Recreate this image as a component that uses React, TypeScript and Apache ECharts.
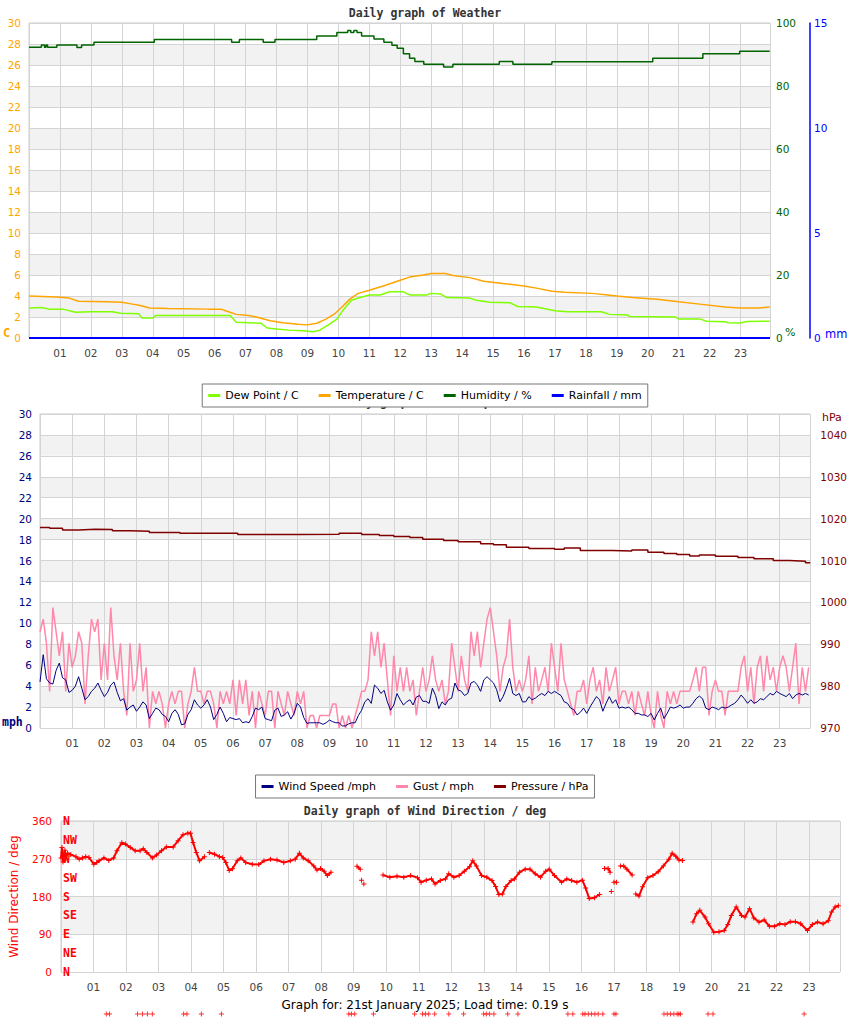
import React, { useEffect, useRef } from 'react';
import * as echarts from 'echarts';

// ---------- DATA ----------
const hourLabels = ['', '01', '02', '03', '04', '05', '06', '07', '08', '09', '10', '11', '12', '13', '14', '15', '16', '17', '18', '19', '20', '21', '22', '23'];
const compassLabels = ['N', 'NE', 'E', 'SE', 'S', 'SW', 'W', 'NW', 'N'];

// [hour, °C]
const temperature = [[0,4.0],[0.9,3.9],[1.3,3.8],[1.6,3.5],[2.5,3.45],[3.0,3.4],[3.3,3.25],[3.6,3.1],[3.9,2.85],[4.5,2.8],[5.8,2.75],[6.2,2.75],[6.4,2.55],[6.7,2.25],[7.1,2.15],[7.4,1.95],[7.8,1.65],[8.2,1.45],[8.7,1.3],[9.0,1.25],[9.3,1.4],[9.6,1.8],[9.9,2.35],[10.1,2.9],[10.37,3.7],[10.64,4.25],[11.0,4.55],[11.45,4.95],[12.0,5.5],[12.3,5.8],[12.75,6.0],[13.0,6.15],[13.45,6.15],[13.7,5.95],[14.25,5.75],[14.7,5.4],[15.3,5.2],[16.0,4.95],[16.4,4.75],[16.9,4.45],[17.3,4.35],[18.2,4.25],[18.7,4.1],[19.0,4.0],[19.5,3.85],[20.3,3.7],[21.0,3.45],[21.6,3.25],[22.5,2.95],[23.0,2.85],[23.6,2.85],[23.94,2.95]];
const dewPoint = [[0,2.85],[0.4,2.9],[0.65,2.75],[1.1,2.75],[1.5,2.45],[2.0,2.5],[2.7,2.5],[2.95,2.35],[3.55,2.3],[3.65,1.9],[4.0,1.9],[4.1,2.15],[6.5,2.15],[6.7,1.5],[7.5,1.4],[7.7,0.95],[8.0,0.85],[8.4,0.75],[8.85,0.7],[9.2,0.6],[9.4,0.75],[9.65,1.2],[9.95,1.8],[10.15,2.65],[10.42,3.6],[10.7,3.85],[11.0,4.1],[11.35,4.1],[11.65,4.4],[12.1,4.4],[12.3,4.1],[12.85,4.1],[13.0,4.25],[13.3,4.2],[13.5,3.85],[14.25,3.8],[14.46,3.6],[14.9,3.4],[15.55,3.35],[15.8,3.0],[16.4,2.95],[17.0,2.6],[17.4,2.5],[18.5,2.5],[18.77,2.25],[19.35,2.2],[19.4,2.05],[20.9,2.0],[21.0,1.8],[21.7,1.8],[21.9,1.6],[22.5,1.55],[22.6,1.45],[23.0,1.42],[23.2,1.58],[23.94,1.6]];
// [hour, %]
const humidity = [[0,92.3],[0.4,93.0],[0.5,92.3],[0.55,93.0],[0.6,92.3],[0.9,93.0],[1.55,92.2],[1.7,93.0],[2.1,93.9],[4.05,94.8],[6.55,93.9],[6.8,94.8],[7.57,93.9],[7.95,94.8],[9.3,95.9],[9.95,97.0],[10.3,97.6],[10.4,97.0],[10.5,97.6],[10.6,97.0],[10.75,95.9],[11.15,94.9],[11.47,93.9],[11.73,92.9],[11.9,92.0],[12.1,90.2],[12.3,88.8],[12.47,87.8],[12.76,86.9],[13.4,86.0],[13.7,86.9],[15.2,87.8],[15.64,86.9],[16.9,87.7],[20.16,88.8],[21.78,90.2],[22.97,91.0],[23.94,91.0]];
// [hour, mm]
const rainfall = [[0,0],[23.95,0]];

// mph, one value every 0.1 h from 00:00
const windSpeed = [
  4.4,7.0,4.7,4.3,4.2,5.5,6.2,4.8,4.6,3.4,
  3.6,4.0,4.9,3.8,2.7,3.0,3.5,3.8,4.3,3.6,
  3.0,3.4,4.1,4.4,3.4,2.6,2.8,1.7,2.0,2.2,
  1.6,2.0,2.5,2.2,0.9,1.4,1.9,1.75,1.3,1.1,
  0.6,1.4,1.75,1.3,0.3,0.4,1.3,1.75,2.7,2.2,
  1.9,2.2,2.7,2.0,0.8,1.3,2.0,1.4,0.6,1.0,
  0.9,0.8,0.9,0.5,0.6,0.5,1.1,1.9,1.75,2.0,
  0.9,0.8,0.7,1.7,1.9,1.1,1.25,1.55,0.85,1.4,
  2.36,2.0,1.0,0.45,0.5,0.5,0.5,0.5,0.35,0.5,
  0.76,0.6,0.5,0.5,0.2,0.2,0.4,0.5,0.5,1.2,
  1.7,2.5,2.8,2.35,4.1,3.8,3.3,3.6,2.5,1.7,
  2.2,3.3,2.7,2.2,2.5,2.7,2.2,2.95,3.1,2.55,
  2.55,2.35,3.8,3.1,1.85,2.5,2.2,2.7,2.85,4.3,
  3.65,3.5,3.1,3.3,4.3,4.45,4.1,3.5,4.6,4.9,
  4.6,4.3,3.65,2.5,3.0,3.8,4.75,3.3,3.1,3.3,
  2.5,2.5,3.0,2.7,2.85,3.1,3.3,3.1,3.5,3.3,
  3.5,3.3,3.1,2.5,2.36,1.9,1.75,1.25,1.5,1.9,
  1.4,2.0,2.5,3.0,2.7,1.6,2.36,3.0,2.36,2.7,
  1.9,2.0,1.9,2.0,1.75,1.4,1.4,1.25,1.25,1.1,
  1.4,0.76,1.4,1.9,0.9,1.4,2.0,1.9,2.0,2.2,
  1.9,2.0,2.0,2.36,2.8,3.05,2.8,1.9,1.75,2.0,
  1.9,1.75,2.0,1.9,2.0,2.2,2.36,2.7,3.15,2.8,
  2.36,2.7,2.36,2.5,2.8,2.7,3.0,3.3,3.15,3.5,
  3.3,3.15,3.0,3.3,2.8,3.15,3.3,3.15,3.3,3.15
];
// mph, one value every 0.1 h from 00:00
const gust = [
  9.2,10.4,8.1,3.5,11.5,9.2,6.9,9.2,3.5,8.1,
  5.8,6.9,9.2,8.1,2.3,6.9,10.4,9.2,10.4,4.6,
  8.1,4.6,11.5,6.9,4.6,8.1,3.5,1.2,8.1,3.5,
  4.6,8.1,3.5,5.8,0,3.5,2.3,3.5,2.3,0,
  2.3,3.5,2.3,3.5,3.5,0,2.3,3.5,5.8,3.5,
  3.5,2.3,3.5,3.5,2.3,0,3.5,2.3,3.5,2.3,
  4.6,1.2,4.6,2.3,4.6,1.2,3.5,0,3.5,2.3,
  1.2,3.5,3.5,0,3.5,2.3,1.2,3.5,2.3,1.2,
  3.5,2.3,3.5,0,1.2,1.2,0,1.2,1.2,1.2,
  1.2,2.3,2.3,0,1.2,0,1.2,0,1.2,2.3,
  3.5,3.5,4.6,9.2,6.9,9.2,5.8,8.1,4.6,1.2,
  6.9,3.5,5.8,3.5,5.8,3.5,4.6,1.2,3.5,5.8,
  3.5,4.6,6.9,4.6,3.5,4.6,2.3,3.5,8.1,5.8,
  3.5,6.9,4.6,3.5,9.2,6.9,9.2,5.8,8.1,10.4,
  11.5,9.2,6.9,3.5,5.8,6.9,10.4,5.8,3.5,4.6,
  3.5,4.6,6.9,2.3,5.8,3.5,4.6,5.8,3.5,8.1,
  5.8,3.5,8.1,4.6,3.5,2.3,1.2,3.5,3.5,4.6,
  2.3,4.6,5.8,3.5,4.6,2.3,5.8,3.5,4.6,5.8,
  2.3,3.5,3.5,2.3,3.5,1.2,3.5,2.3,1.2,3.5,
  1.2,0,3.5,1.2,0,3.5,2.3,3.5,2.3,3.5,
  3.5,3.5,3.5,4.6,5.8,3.5,5.8,5.8,1.2,3.5,
  4.6,3.5,3.5,1.2,3.5,3.5,3.5,3.5,5.8,6.9,
  3.5,5.8,2.3,5.8,6.9,3.5,6.9,4.6,5.8,3.5,
  5.8,6.9,5.8,3.5,5.8,8.1,2.3,5.8,3.5,5.8
];
// [hour, hPa]
const pressure = [[0,1017.9],[0.3,1017.7],[0.7,1017.3],[1.2,1017.45],[1.7,1017.4],[2.25,1017.1],[2.8,1017.0],[3.4,1016.7],[4.35,1016.5],[6.15,1016.2],[8.0,1016.3],[9.3,1016.5],[10.0,1016.2],[10.55,1016.0],[11.0,1015.75],[11.5,1015.5],[11.9,1015.1],[12.55,1014.8],[13.0,1014.5],[13.7,1014.0],[14.1,1013.75],[14.5,1013.2],[15.2,1012.9],[16.0,1012.7],[16.3,1013.0],[16.8,1012.4],[17.8,1012.3],[18.4,1012.5],[18.9,1012.0],[19.4,1011.7],[19.8,1011.45],[20.2,1011.1],[20.5,1011.3],[21.0,1011.0],[21.7,1010.7],[22.2,1010.4],[22.8,1010.0],[23.3,1009.85],[23.8,1009.5],[23.95,1009.5]];

// [hour, deg] runs of wind direction readings, separated by gaps
const windDirSegments = [
  [[0.0,272],[0.03,297],[0.06,262],[0.09,280],[0.12,290],[0.15,270],[0.2,283],[0.3,280],[0.46,275],[0.56,269],[0.66,272],[0.76,275],[0.86,273],[1.01,257],[1.1,261],[1.17,265],[1.32,272],[1.47,266],[1.62,272],[1.72,289],[1.87,308],[1.98,305],[2.13,297],[2.28,289],[2.43,289],[2.53,294],[2.64,285],[2.81,272],[2.94,279],[3.09,289],[3.24,298],[3.45,298],[3.6,313],[3.75,327],[3.9,331],[3.98,331],[4.06,309],[4.16,285],[4.26,265],[4.41,275]],
  [[4.56,285],[4.72,281],[4.87,275],[4.97,273],[5.07,261],[5.17,242],[5.27,246],[5.42,265],[5.53,272],[5.68,261],[5.88,257],[6.08,256],[6.24,265],[6.44,269],[6.64,267],[6.85,261],[7.05,265],[7.2,269],[7.33,283],[7.45,272],[7.6,265],[7.77,253],[7.87,243],[7.98,247],[8.09,240],[8.19,230],[8.3,238]],
  [[9.1,252],[9.2,245]],
  [[9.24,219]],
  [[9.31,210]],
  [[9.9,231],[10.11,226],[10.33,228],[10.54,226],[10.75,230],[10.96,225],[11.07,214],[11.23,219],[11.39,222],[11.5,210],[11.66,218],[11.82,222],[11.92,234],[12.08,226],[12.24,230],[12.4,240],[12.56,251],[12.66,265],[12.77,253],[12.93,230],[13.09,226],[13.25,218],[13.36,204],[13.46,185],[13.57,186],[13.68,204],[13.84,218],[13.94,222],[14.1,238],[14.27,245],[14.42,245],[14.58,234],[14.74,226],[14.9,240],[15.01,245],[15.17,230],[15.39,214],[15.55,222],[15.7,218],[15.86,214],[16.03,219],[16.13,200],[16.24,175],[16.4,177],[16.56,185]],
  [[16.71,247],[16.82,247],[16.88,238]],
  [[16.92,192]],
  [[17.0,214],[17.08,214]],
  [[17.2,253],[17.3,253],[17.4,245],[17.56,231]],
  [[17.67,186],[17.77,181],[17.88,203],[18.04,225],[18.2,230],[18.36,239],[18.52,253],[18.69,269],[18.79,283],[18.9,276],[19.0,267],[19.11,266]],
  [[19.43,119],[19.54,139],[19.64,147],[19.8,131],[19.91,115],[20.07,95],[20.23,96],[20.39,99],[20.5,113],[20.61,135],[20.76,155],[20.92,135],[21.03,131],[21.17,151],[21.3,129],[21.46,119],[21.62,124],[21.78,109],[21.94,109],[22.1,115],[22.26,113],[22.42,120],[22.58,120],[22.74,115],[22.95,99],[23.1,113],[23.26,119],[23.43,115],[23.59,122],[23.69,143],[23.8,155],[23.9,158]]
];
// hours of the stray direction marks drawn below the footer
const calmHours = [1.65,1.75,2.6,2.75,2.9,3.05,4.0,4.1,4.54,5.15,9.02,9.1,9.2,9.77,11.02,11.26,11.35,11.45,11.63,12.06,12.51,13.12,13.2,13.3,13.43,13.85,14.16,15.68,15.83,16.13,16.2,16.3,16.4,16.5,16.6,16.74,17.08,17.14,18.6,18.7,18.8,18.9,19.0,19.05,19.1,19.94,20.09,22.86];

// ---------- STYLE ----------
const GRID_LINE = '#d4d4d4';
const BAND = ['#ffffff', '#f2f2f2'];
const SANS = 'DejaVu Sans';
const MONO = 'DejaVu Sans Mono';
const PLUS = 'path://M2,0H3V2H5V3H3V5H2V3H0V2H2Z';
const X_MAX = 23.95;

const hourLabel = (v: number) => (Number.isInteger(v) && hourLabels[v] !== undefined ? hourLabels[v] : '');
const everyTenth = (arr: number[]) => arr.map((v, i) => [i / 10, v]);

function hourAxis(gridIndex: number, margin: number) {
  return {
    type: 'value', gridIndex, min: 0, max: X_MAX, interval: 1,
    axisLine: { show: false }, axisTick: { show: false },
    axisLabel: { margin, color: '#444', fontFamily: SANS, fontSize: 10.5, formatter: hourLabel },
    splitLine: { show: true, lineStyle: { color: GRID_LINE, width: 1 } },
  };
}

function buildDirData() {
  const out: any[] = [];
  windDirSegments.forEach((seg, i) => {
    if (i > 0) out.push([seg[0][0] - 0.01, '-']);
    seg.forEach((p) => out.push(p));
  });
  return out;
}

const titleStyle = { fontFamily: MONO, fontWeight: 'bold', fontSize: 11.5, color: '#333' };
const legendBase = {
  left: 'center', orient: 'horizontal', icon: 'rect', itemWidth: 12, itemHeight: 3, itemGap: 20,
  padding: [6, 6, 6, 6], borderColor: '#777', borderWidth: 1, backgroundColor: '#fff',
  textStyle: { fontFamily: SANS, fontSize: 11, color: '#000' }, selectedMode: false, z: 10,
};

function buildOption() {
  return {
    animation: false,
    backgroundColor: '#fff',
    title: [
      { text: 'Daily graph of Weather', left: 'center', top: 2, textStyle: titleStyle, z: 1 },
      { text: 'Daily graph of Wind Speed', left: 'center', top: 391, textStyle: titleStyle, z: 1 },
      { text: 'Daily graph of Wind Direction / deg', left: 'center', top: 800, textStyle: titleStyle, z: 1 },
      { text: 'Graph for: 21st January 2025; Load time: 0.19 s', left: 'center', top: 994, textStyle: { fontFamily: SANS, fontWeight: 'normal', fontSize: 12, color: '#000' }, z: 1 },
    ],
    legend: [
      { ...legendBase, top: 384, data: ['Dew Point / C', 'Temperature / C', 'Humidity / %', 'Rainfall / mm'] },
      { ...legendBase, top: 775, data: ['Wind Speed /mph', 'Gust / mph', 'Pressure / hPa'] },
    ],
    grid: [
      { left: 29, top: 23, width: 741, height: 315, show: true, borderColor: '#ccc', borderWidth: 1, backgroundColor: 'transparent' },
      { left: 40, top: 414, width: 772, height: 314, show: true, borderColor: '#ccc', borderWidth: 1, backgroundColor: 'transparent' },
      { left: 52, top: 821, width: 788, height: 151, show: true, borderColor: '#ccc', borderWidth: 1, backgroundColor: 'transparent' },
      { left: 52, top: 1012, width: 788, height: 4, show: false },
    ],
    xAxis: [
      hourAxis(0, 9),
      hourAxis(1, 9),
      hourAxis(2, 9),
      { type: 'value', gridIndex: 3, min: 0, max: X_MAX, show: false },
    ],
    yAxis: [
      {
        type: 'value', gridIndex: 0, position: 'left', min: 0, max: 30, interval: 2,
        axisLine: { show: false }, axisTick: { show: false },
        axisLabel: { color: '#FFA500', fontFamily: SANS, fontSize: 10.5, margin: 8 },
        splitLine: { show: true, lineStyle: { color: GRID_LINE } },
        splitArea: { show: true, areaStyle: { color: BAND } },
      },
      {
        type: 'value', gridIndex: 0, position: 'right', min: 0, max: 100, interval: 20,
        axisLine: { show: false }, axisTick: { show: false },
        axisLabel: { color: '#006400', fontFamily: SANS, fontSize: 10.5, margin: 6 },
        splitLine: { show: false },
      },
      {
        type: 'value', gridIndex: 0, position: 'right', offset: 40, min: 0, max: 15, interval: 5,
        axisLine: { show: true, lineStyle: { color: '#0000FF', width: 1.5 } }, axisTick: { show: false },
        axisLabel: { color: '#0000FF', fontFamily: SANS, fontSize: 10.5, margin: 4 },
        splitLine: { show: false },
      },
      {
        type: 'value', gridIndex: 1, position: 'left', min: 0, max: 30, interval: 2,
        axisLine: { show: false }, axisTick: { show: false },
        axisLabel: { color: '#000080', fontFamily: SANS, fontSize: 10.5, margin: 8 },
        splitLine: { show: true, lineStyle: { color: GRID_LINE } },
        splitArea: { show: true, areaStyle: { color: BAND } },
      },
      {
        type: 'value', gridIndex: 1, position: 'right', min: 970, max: 1045, interval: 10,
        axisLine: { show: false }, axisTick: { show: false },
        axisLabel: { color: '#800000', fontFamily: SANS, fontSize: 10.5, margin: 10, formatter: (v: number) => (v % 10 === 0 ? String(v) : '') },
        splitLine: { show: false },
      },
      {
        type: 'value', gridIndex: 2, position: 'left', min: 0, max: 360, interval: 90,
        name: 'Wind Direction / deg', nameLocation: 'middle', nameGap: 41,
        nameTextStyle: { color: '#FF0000', fontFamily: SANS, fontSize: 12 },
        axisLine: { show: false }, axisTick: { show: false },
        axisLabel: { color: '#FF0000', fontFamily: SANS, fontSize: 10.5, margin: 9 },
        splitLine: { show: true, lineStyle: { color: GRID_LINE } },
        splitArea: { show: true, areaStyle: { color: BAND } },
      },
      {
        type: 'value', gridIndex: 2, position: 'left', min: 0, max: 360, interval: 45,
        axisLine: { show: false }, axisTick: { show: false },
        axisLabel: {
          inside: true, margin: 2, color: '#FF0000', fontFamily: MONO, fontWeight: 'bold', fontSize: 11.5,
          padding: [0, 0, 4, 0],
          formatter: (v: number) => compassLabels[Math.round(v / 45)] ?? '',
        },
        splitLine: { show: false },
      },
      { type: 'value', gridIndex: 3, min: -1, max: 1, show: false },
    ],
    series: [
      { name: 'Dew Point / C', type: 'line', xAxisIndex: 0, yAxisIndex: 0, data: dewPoint, showSymbol: false, silent: true,
        lineStyle: { color: '#7FFF00', width: 1.5 }, itemStyle: { color: '#7FFF00' }, z: 3 },
      { name: 'Temperature / C', type: 'line', xAxisIndex: 0, yAxisIndex: 0, data: temperature, showSymbol: false, silent: true,
        lineStyle: { color: '#FFA500', width: 1.5 }, itemStyle: { color: '#FFA500' }, z: 3 },
      { name: 'Humidity / %', type: 'line', xAxisIndex: 0, yAxisIndex: 1, data: humidity, step: 'end', showSymbol: false, silent: true,
        lineStyle: { color: '#006400', width: 1.5 }, itemStyle: { color: '#006400' }, z: 3 },
      { name: 'Rainfall / mm', type: 'line', xAxisIndex: 0, yAxisIndex: 2, data: rainfall, showSymbol: false, silent: true,
        lineStyle: { color: '#0000FF', width: 2 }, itemStyle: { color: '#0000FF' }, z: 4 },
      { name: 'Gust / mph', type: 'line', xAxisIndex: 1, yAxisIndex: 3, data: everyTenth(gust), showSymbol: false, silent: true,
        lineStyle: { color: '#FF88AA', width: 1.5 }, itemStyle: { color: '#FF88AA' }, z: 3 },
      { name: 'Wind Speed /mph', type: 'line', xAxisIndex: 1, yAxisIndex: 3, data: everyTenth(windSpeed), showSymbol: false, silent: true,
        lineStyle: { color: '#000080', width: 1 }, itemStyle: { color: '#000080' }, z: 4 },
      { name: 'Pressure / hPa', type: 'line', xAxisIndex: 1, yAxisIndex: 4, data: pressure, step: 'end', showSymbol: false, silent: true,
        lineStyle: { color: '#800000', width: 1.5 }, itemStyle: { color: '#800000' }, z: 4 },
      { name: 'Wind Direction', type: 'line', xAxisIndex: 2, yAxisIndex: 5, data: buildDirData(), connectNulls: false,
        showSymbol: true, symbol: PLUS, symbolSize: 5, silent: true,
        lineStyle: { color: '#FF0000', width: 2 }, itemStyle: { color: '#FF0000' }, z: 4 },
      { name: 'Calm', type: 'scatter', xAxisIndex: 3, yAxisIndex: 7, data: calmHours.map((h) => [h, 0]),
        symbol: PLUS, symbolSize: 5, silent: true, itemStyle: { color: '#FF0000' } },
    ],
    graphic: [
      { type: 'text', left: 3, top: 327, style: { text: 'C', fill: '#FFA500', font: 'bold 12px "DejaVu Sans Mono"' } },
      { type: 'text', left: 785, top: 327, style: { text: '%', fill: '#006400', font: '11px "DejaVu Sans"' } },
      { type: 'text', left: 825, top: 328, style: { text: 'mm', fill: '#0000FF', font: '11.5px "DejaVu Sans"' } },
      { type: 'text', left: 822, top: 412, style: { text: 'hPa', fill: '#800000', font: '11px "DejaVu Sans"' } },
      { type: 'text', left: 2, top: 716, style: { text: 'mph', fill: '#000080', font: 'bold 11.5px "DejaVu Sans Mono"' } },
    ],
  };
}

export default function App() {
  const ref = useRef<HTMLDivElement>(null);
  useEffect(() => {
    if (!ref.current) return;
    const chart = echarts.init(ref.current, null, { renderer: 'svg' });
    chart.setOption(buildOption() as any);
    return () => chart.dispose();
  }, []);
  return <div ref={ref} style={{ position: 'absolute', left: 0, top: 0, width: 850, height: 1017, background: '#fff' }} />;
}
